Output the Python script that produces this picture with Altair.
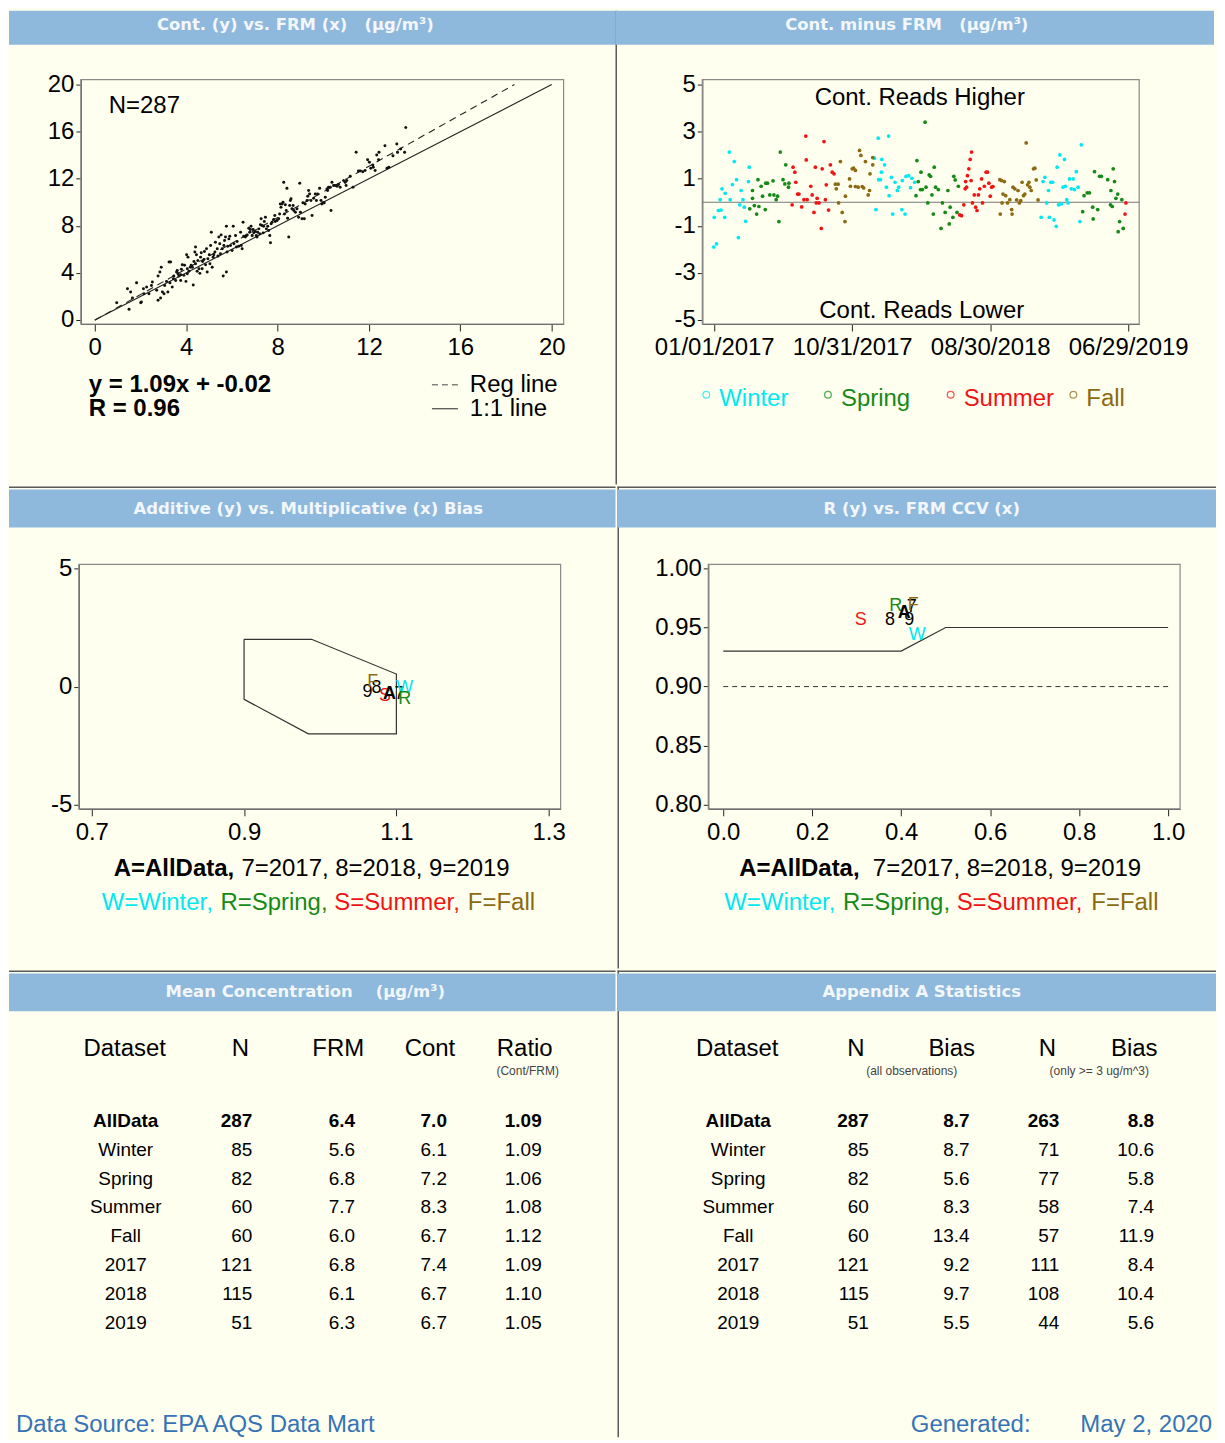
import altair as alt
import pandas as pd

# ---------------- data ----------------
FRM = [0.96,1.43,1.50,1.57,1.65,1.83,2.01,2.04,2.15,2.13,
       2.27,2.37,2.48,2.52,2.71,2.77,2.77,2.85,2.88,2.91,
       2.96,3.03,3.06,3.14,3.20,3.25,3.32,3.29,3.39,3.44,
       3.46,3.54,3.58,3.61,3.64,3.68,3.76,3.76,3.79,3.83,
       3.90,3.93,3.99,4.02,4.05,4.05,4.08,4.12,4.19,4.22,
       4.27,4.31,4.34,4.38,4.41,4.41,4.45,4.48,4.51,4.56,
       4.60,4.63,4.66,4.70,4.72,4.78,4.80,4.85,4.89,4.92,
       4.95,5.01,5.04,5.07,5.10,5.14,5.18,5.21,5.26,5.28,
       5.36,5.39,5.43,5.47,5.50,5.53,5.58,5.62,5.65,5.68,
       5.72,5.76,5.76,5.79,5.82,5.87,5.91,5.94,6.01,6.06,
       6.09,6.16,6.20,6.23,6.30,6.38,6.41,6.45,6.49,6.52,
       6.59,6.64,6.67,6.74,6.78,6.81,6.84,6.89,6.93,6.96,
       7.03,7.07,7.10,7.13,7.18,7.22,7.25,7.28,7.32,7.37,
       7.39,7.42,7.47,7.51,7.57,7.61,7.66,7.69,7.72,7.76,
       7.83,7.88,7.90,7.98,8.05,8.09,8.12,8.15,8.20,8.24,
       8.27,8.30,8.34,8.38,8.41,8.44,8.49,8.53,8.56,8.59,
       8.63,8.68,8.71,8.78,8.85,8.92,8.97,9.00,9.07,9.11,
       9.17,9.21,9.29,9.32,9.36,9.40,9.46,9.51,9.58,9.65,
       9.70,9.75,9.84,9.90,9.94,9.99,10.04,10.09,10.16,10.19,
       10.23,10.31,10.34,10.38,10.45,10.52,10.60,10.67,10.74,10.89,
       10.96,11.00,11.03,11.18,11.30,11.44,11.54,11.62,11.73,11.83,
       11.94,12.02,12.08,12.17,12.27,12.34,12.42,
       12.19,12.44,12.70,12.79,12.87,13.05,13.22,13.25,13.39,13.56,13.61]
CONT = [1.47,2.66,0.91,2.38,1.87,3.17,1.47,1.53,2.23,2.66,
        2.80,2.23,2.94,3.22,2.52,3.73,1.67,4.07,1.87,4.49,
        2.38,2.23,2.94,3.28,2.38,4.92,4.92,3.17,2.80,3.51,
        3.73,3.36,4.07,4.21,3.93,3.73,3.84,3.36,4.30,4.69,
        3.79,4.64,3.28,5.54,3.93,4.35,5.34,4.13,4.49,4.64,
        4.47,2.98,4.97,5.77,6.19,4.78,5.54,4.13,5.06,4.35,
        3.96,5.34,5.71,4.35,4.97,5.14,5.82,4.69,6.05,4.07,
        5.20,5.54,4.78,6.33,7.46,4.49,5.34,5.54,5.77,6.61,
        6.05,5.43,7.04,6.47,5.62,7.23,6.05,3.73,6.33,6.75,
        7.04,4.07,7.97,5.77,6.27,6.89,7.12,6.33,5.91,7.97,
        6.47,7.18,6.19,6.67,6.27,7.46,6.33,6.05,8.31,7.12,
        7.04,7.18,7.23,7.80,7.46,7.69,7.97,7.18,7.69,7.40,
        7.52,7.18,7.04,7.46,7.74,7.32,8.08,8.59,8.02,7.40,
        7.97,8.37,8.73,7.74,7.97,7.60,7.18,6.56,8.17,8.31,
        8.54,8.87,8.37,8.45,8.59,9.01,9.86,9.58,9.86,10.0,
        11.70,9.01,9.78,9.30,11.19,8.65,7.04,9.72,10.14,10.29,
        9.44,9.72,9.30,9.16,9.44,8.73,11.61,9.16,8.59,9.95,
        8.59,9.86,10.14,10.51,10.99,10.71,10.14,8.87,10.34,10.71,
        10.14,10.71,11.19,10.14,9.86,9.95,9.95,10.43,11.13,10.99,
        11.27,11.27,9.30,11.70,11.42,11.42,11.36,11.50,11.27,11.84,
        11.70,11.42,11.84,12.21,11.27,14.24,12.66,12.66,12.60,12.69,
        13.62,13.39,12.88,13.17,12.69,14.01,13.62,
        12.98,14.25,14.81,12.89,12.98,13.96,14.95,14.25,14.53,14.25,16.36]
REG_SLOPE = 1.09
REG_INTERCEPT = -0.02
R_VALUE = 0.96

SEASONS = ["Winter", "Spring", "Summer", "Fall"]
SEASON_COLORS = ["#00E8F0", "#168A16", "#F01414", "#8B6A12"]
DATE_TICKS = ["01/01/2017", "10/31/2017", "08/30/2018", "06/29/2019"]

# days since 01/01/2017 and Cont.-FRM differences, by season
WINTER_DAYS = [0,-1,5,9,15,17,23,24,13,33,35,40,44,49,53,56,59,63,66,69,75,77,
               352,355,360,361,365,367,368,374,378,383,384,389,392,397,402,405,412,413,419,421,427,431,434,440,
               718,722,726,730,734,736,739,743,746,751,753,756,759,762,766,769,771,774,777,780,784,788,791,795,799,803,806]
WINTER_DIFF = [-0.64,-1.9,-1.77,-0.35,-0.33,0.57,-0.64,0.38,0.11,2.13,0.11,0.75,1.73,0.96,-1.5,-0.11,0.5,0.11,-0.21,-0.81,0.88,1.49,
               1.87,-0.31,2.72,0.96,0.96,1.28,1.82,1.59,0.64,2.81,0.28,1.06,-0.5,0.85,0.5,0.64,-0.31,0.92,-0.5,1.1,1.13,0.62,1.02,0.85,
               -0.64,0.88,1.06,-0.03,0.5,-0.64,0.85,0.85,-0.75,-1.02,1.49,-0.11,2.01,-0.07,0.64,1.82,0.68,0.11,-0.03,0.99,0.57,0.99,0.54,1.3,0.64,-0.82,2.44]
SPRING_DAYS = [78,84,84,88,93,96,98,103,106,112,113,117,122,129,131,136,139,142,145,151,155,157,163,164,
               443,445,448,453,454,457,463,465,469,472,475,478,481,483,486,492,498,501,507,513,518,516,524,526,529,533,536,
               809,812,819,824,832,831,835,842,846,850,864,870,871,874,876,879,882,886,887,890,895,898]
SPRING_DIFF = [-0.28,0.5,0.17,-0.14,-0.5,0.96,-0.18,0.68,0.26,-0.31,0.81,0.81,0.31,0.91,0.31,0.11,0.26,-0.82,2.13,0.96,0.78,1.59,0.64,0.81,
               0.28,1.77,0.88,0.54,1.28,0.54,3.4,0.64,-0.03,1.16,1.1,0.31,-0.5,1.49,0.64,0.54,-1.11,-0.03,-0.43,0.5,-0.21,-0.92,-0.64,1.1,0.95,-0.43,0.68,
               -0.4,0.28,0.4,0.4,-0.71,-0.21,1.3,-0.31,1.1,1.1,0.96,-0.11,0.5,-0.18,1.42,0.88,0.17,0.35,-1.25,-0.82,0.11,-1.11]
SUMMER_DAYS = [173,177,179,171,186,183,192,197,201,202,204,212,215,219,222,224,226,230,235,237,241,244,246,251,255,259,263,
               539,543,548,551,552,554,556,559,562,564,565,567,571,574,577,580,583,587,589,593,597,600,603,606,609,612,
               902,904]
SUMMER_DIFF = [1.49,1.28,0.85,-0.11,0.35,0.35,-0.2,0.11,2.81,1.8,0.11,0.68,0.31,-0.43,1.49,-0.03,0.17,-0.03,-1.11,1.42,2.58,0.11,0.74,-0.33,1.59,1.28,1.21,
               -0.54,-0.57,-0.11,0.57,0.88,0.64,1.13,1.42,1.82,0.92,2.13,-0.03,0.31,-0.21,-0.35,0.31,0.57,0.99,-0.03,0.68,1.28,1.28,0.81,0.26,0.64,0.67,
               -0.5,-0.03]
FALL_DAYS = [266,268,272,273,277,281,287,288,297,299,303,306,310,310,316,319,322,325,328,332,338,341,342,348,348,
             627,631,632,634,637,628,640,644,649,653,654,656,660,664,667,670,673,676,679,682,685,688,691,693,696,701,704,707,711]
FALL_DIFF = [0.77,0.57,0.77,-0.03,1.73,-0.43,-0.82,0.26,0.99,0.68,1.42,1.45,1.35,0.67,0.64,2.2,1.99,0.67,0.61,1.73,0.31,0.5,1.21,1.59,1.9,
             0.96,0.92,-0.03,0.35,0.88,-0.5,0.28,-0.03,0.11,-0.31,-0.5,0.64,0.57,0.1,0.5,-0.03,0.07,0.85,0.28,0.35,2.52,0.74,0.85,0.64,0.5,1.42,1.45,0.95,0.1]

CODES = ["A", "7", "8", "9", "W", "R", "S", "F"]
CODE_COLORS = ["#000000", "#000000", "#000000", "#000000"] + SEASON_COLORS
CODE_SLOPE = [1.091, 1.104, 1.074, 1.062, 1.111, 1.111, 1.085, 1.069]
CODE_INTERCEPT = [-0.30, -0.30, -0.08, -0.21, -0.08, -0.51, -0.38, 0.21]
CODE_CCV = [0.407, 0.424, 0.375, 0.418, 0.436, 0.388, 0.309, 0.427]
CODE_R = [0.962, 0.967, 0.956, 0.956, 0.944, 0.968, 0.956, 0.969]

ACC_SLOPE = [0.9, 0.9886, 1.1, 1.1, 0.9844, 0.9, 0.9]
ACC_INTERCEPT = [2.0, 2.0, 0.53, -2.0, -2.0, -0.538, 2.0]
R_LIMIT_CCV = [0.0, 0.4, 0.5, 1.0]
R_LIMIT_R = [0.93, 0.93, 0.95, 0.95]
R_MIN = 0.90

DATASETS = ["AllData", "Winter", "Spring", "Summer", "Fall", "2017", "2018", "2019"]
MC_N = [287, 85, 82, 60, 60, 121, 115, 51]
MC_FRM = [6.4, 5.6, 6.8, 7.7, 6.0, 6.8, 6.1, 6.3]
MC_CONT = [7.0, 6.1, 7.2, 8.3, 6.7, 7.4, 6.7, 6.7]
MC_RATIO = [1.09, 1.09, 1.06, 1.08, 1.12, 1.09, 1.10, 1.05]
AP_N_ALL = [287, 85, 82, 60, 60, 121, 115, 51]
AP_BIAS_ALL = [8.7, 8.7, 5.6, 8.3, 13.4, 9.2, 9.7, 5.5]
AP_N_3 = [263, 71, 77, 58, 57, 111, 108, 44]
AP_BIAS_3 = [8.8, 10.6, 5.8, 7.4, 11.9, 8.4, 10.4, 5.6]

# ---------------- style / layout ----------------
FONT = "Liberation Sans"
HFONT = "DejaVu Sans"
BG = "#FFFFEF"
HEAD_BG = "#8EB9DD"
HEAD_FG = "#F3F7FB"
BORDER = "#5A5A5A"
FOOT = "#3673B6"
NB = "\u00a0"
MINUS_EXPR = "replace(datum.label, '\u2212', '-')"

WL, WR = 608, 600
H1, H2, H3 = 475, 483, 468

one = pd.DataFrame({"k": [0]})


def text(s, x, y, size=24, color="black", weight="normal", align="center",
         font=FONT, baseline="middle"):
    return alt.Chart(one).mark_text(
        text=s, font=font, fontSize=size, fontWeight=weight, color=color,
        align=align, baseline=baseline).encode(x=alt.value(x), y=alt.value(y))


def header(title, w, y0, y1, cx, cy):
    bar = alt.Chart(one).mark_rect(color=HEAD_BG).encode(
        x=alt.value(0), x2=alt.value(w), y=alt.value(y0), y2=alt.value(y1))
    return [bar, text(title, cx, cy, size=16.5, color=HEAD_FG, weight="bold", font=HFONT)]


def hrule(w):
    return alt.Chart(one).mark_rule(color=BORDER, strokeWidth=1.5).encode(
        x=alt.value(0), x2=alt.value(w), y=alt.value(0.75))


def vrule(h):
    return alt.Chart(one).mark_rule(color=BORDER, strokeWidth=1.5).encode(
        x=alt.value(0.75), y=alt.value(0), y2=alt.value(h))


def sc(domain, rng):
    return alt.Scale(domain=domain, range=rng, nice=False, zero=False)


def axis(orient, values, offset, fmt=None, expr=None, tick=6, pad=4):
    kw = dict(orient=orient, values=values, offset=offset, grid=False, title=None,
              labelFont=FONT, labelFontSize=24, labelColor="black",
              tickColor="#222222", tickSize=tick, tickWidth=1,
              domainColor="#555555", domainWidth=1.2,
              labelPadding=pad, labelFlush=False, labelOverlap=False)
    if fmt:
        kw["format"] = fmt
    if expr:
        kw["labelExpr"] = expr
    return alt.Axis(**kw)


def frame(xf, yf, X, Y, xd, yd):
    df = pd.DataFrame({xf: [xd[0]], xf + "2": [xd[1]], yf: [yd[0]], yf + "2": [yd[1]]})
    return alt.Chart(df).mark_rect(fillOpacity=0, stroke="#8A8A8A", strokeWidth=1.2).encode(
        x=X, x2=alt.X2(xf + "2"), y=Y, y2=alt.Y2(yf + "2"))


# ---------------- Panel A: scatter ----------------
AXD, AYD = [-0.611, 20.52], [-0.34, 20.42]
XA = alt.X("ax:Q", scale=sc(AXD, [72, 556]),
           axis=axis("bottom", [0, 4, 8, 12, 16, 20], -(H1 - 314), tick=7, pad=5))
YA = alt.Y("ay:Q", scale=sc(AYD, [314, 69]),
           axis=axis("left", [0, 4, 8, 12, 16, 20], -72, tick=5, pad=2))
pts_a = pd.DataFrame({"ax": FRM, "ay": CONT})
x_end = (20 - REG_INTERCEPT) / REG_SLOPE
reg_df = pd.DataFrame({"ax": [0, x_end], "ay": [REG_INTERCEPT, REG_INTERCEPT + REG_SLOPE * x_end]})
one_df = pd.DataFrame({"ax": [0, 20], "ay": [0, 20]})

layers_a = header("Cont. (y) vs. FRM (x)" + NB * 3 + "(\u03bcg/m\u00b3)", WL, 0, 34, 287, 14)
layers_a += [
    frame("ax", "ay", XA, YA, AXD, AYD),
    alt.Chart(one_df).mark_line(color="#222222", strokeWidth=1.1).encode(x=XA, y=YA),
    alt.Chart(reg_df).mark_line(color="#222222", strokeWidth=1.1, strokeDash=[7, 5]).encode(x=XA, y=YA),
    alt.Chart(pts_a).mark_circle(size=9, color="#111111", opacity=1).encode(x=XA, y=YA),
    text(f"N={MC_N[0]}", 100, 95, align="left"),
    text(f"y = {REG_SLOPE:.2f}x + {REG_INTERCEPT:.2f}", 80, 375, weight="bold", align="left"),
    text(f"R = {R_VALUE:.2f}", 80, 399, weight="bold", align="left"),
    alt.Chart(one).mark_rule(color="#444444", strokeDash=[6, 4]).encode(
        x=alt.value(424), x2=alt.value(450), y=alt.value(375)),
    alt.Chart(one).mark_rule(color="#222222").encode(
        x=alt.value(424), x2=alt.value(450), y=alt.value(399)),
    text("Reg line", 462, 375, align="left"),
    text("1:1 line", 462, 399, align="left"),
]
pA = alt.layer(*layers_a).properties(width=WL, height=H1)

# ---------------- Panel B: time series of differences ----------------
base = pd.Timestamp("2017-01-01")
tick_days = [(pd.to_datetime(s, format="%m/%d/%Y") - base).days for s in DATE_TICKS]
date_expr = " : ".join(f"datum.value == {d} ? '{s}'" for d, s in zip(tick_days, DATE_TICKS)) + " : ''"
rows = []
for s, dd, vv in [("Winter", WINTER_DAYS, WINTER_DIFF), ("Spring", SPRING_DAYS, SPRING_DIFF),
                  ("Summer", SUMMER_DAYS, SUMMER_DIFF), ("Fall", FALL_DAYS, FALL_DIFF)]:
    for d, v in zip(dd, vv):
        rows.append({"bx": d, "by": v, "season": s})
pts_b = pd.DataFrame(rows)
BXD, BYD = [-26.3, 933.1], [-5.17, 5.21]
XB = alt.X("bx:Q", scale=sc(BXD, [87, 525]),
           axis=axis("bottom", tick_days, -(H1 - 314), expr=date_expr, tick=7, pad=5))
YB = alt.Y("by:Q", scale=sc(BYD, [314, 69]),
           axis=axis("left", [-5, -3, -1, 1, 3, 5], -87, expr=MINUS_EXPR, tick=5, pad=2))
zero_df = pd.DataFrame({"bx": [BXD[0], BXD[1]], "by": [0, 0]})

layers_b = [vrule(H1)] + header("Cont. minus FRM" + NB * 3 + "(\u03bcg/m\u00b3)", WR, 0, 34, 292, 14)
layers_b += [
    frame("bx", "by", XB, YB, BXD, BYD),
    alt.Chart(zero_df).mark_line(color="#777777", strokeWidth=1.1).encode(x=XB, y=YB),
    alt.Chart(pts_b).mark_circle(size=14, opacity=1).encode(
        x=XB, y=YB,
        color=alt.Color("season:N", scale=alt.Scale(domain=SEASONS, range=SEASON_COLORS), legend=None)),
    text("Cont. Reads Higher", 305, 87),
    text("Cont. Reads Lower", 307, 301),
]
leg_x = [91, 213, 336, 459]
for s, c, lx in zip(SEASONS, SEASON_COLORS, leg_x):
    layers_b.append(alt.Chart(one).mark_point(shape="circle", filled=False, size=45, strokeWidth=1.3, color=c)
                    .encode(x=alt.value(lx), y=alt.value(385)))
    layers_b.append(text(s, lx + 13, 389, color=c, align="left"))
pB = alt.layer(*layers_b).properties(width=WR, height=H1)

# ---------------- Panel C: additive vs multiplicative bias ----------------
CXD, CYD = [0.683, 1.3157], [-5.169, 5.169]
XC = alt.X("cx:Q", scale=sc(CXD, [70, 553]),
           axis=axis("bottom", [0.7, 0.9, 1.1, 1.3], -(H2 - 323), fmt=".1f", tick=7, pad=5))
YC = alt.Y("cy:Q", scale=sc(CYD, [323, 78]),
           axis=axis("left", [-5, 0, 5], -70, expr=MINUS_EXPR, tick=5, pad=2))
poly = pd.DataFrame({"cx": ACC_SLOPE, "cy": ACC_INTERCEPT, "o": list(range(len(ACC_SLOPE)))})
codes_c = pd.DataFrame({"cx": CODE_SLOPE, "cy": CODE_INTERCEPT, "code": CODES})
code_color = alt.Color("code:N", scale=alt.Scale(domain=CODES, range=CODE_COLORS), legend=None)

layers_c = [hrule(WL)] + header("Additive (y) vs. Multiplicative (x) Bias", WL, 3, 41, 300, 22)
layers_c += [
    frame("cx", "cy", XC, YC, CXD, CYD),
    alt.Chart(poly).mark_line(color="#333333", strokeWidth=1.2).encode(x=XC, y=YC, order="o:Q"),
    alt.Chart(codes_c).transform_filter("datum.code != 'A'").mark_text(font=FONT, fontSize=18).encode(
        x=XC, y=YC, text="code:N", color=code_color),
    alt.Chart(codes_c).transform_filter("datum.code == 'A'").mark_text(font=FONT, fontSize=18, fontWeight="bold").encode(
        x=XC, y=YC, text="code:N", color=code_color),
]


def code_legend(x1, x2, xs, y1=383, y2=417):
    out = [text("A=AllData,", x1, y1, weight="bold", align="left"),
           text("7=2017, 8=2018, 9=2019", x2, y1, align="left")]
    labels = ["W=Winter,", "R=Spring,", "S=Summer,", "F=Fall"]
    for lab, c, x in zip(labels, SEASON_COLORS, xs):
        out.append(text(lab, x, y2, color=c, align="left"))
    return out


layers_c += code_legend(105, 233, [93, 212, 326, 460])
pC = alt.layer(*layers_c).properties(width=WL, height=H2)

# ---------------- Panel D: R vs CCV ----------------
DXD, DYD = [-0.0336, 1.0269], [0.79662, 1.00338]
XD = alt.X("dx:Q", scale=sc(DXD, [91, 564]),
           axis=axis("bottom", [0.0, 0.2, 0.4, 0.6, 0.8, 1.0], -(H2 - 323), fmt=".1f", tick=7, pad=5))
YD = alt.Y("dy:Q", scale=sc(DYD, [323, 78]),
           axis=axis("left", [0.80, 0.85, 0.90, 0.95, 1.00], -91, fmt=".2f", tick=5, pad=2))
lim = pd.DataFrame({"dx": R_LIMIT_CCV, "dy": R_LIMIT_R, "o": list(range(len(R_LIMIT_CCV)))})
rmin = pd.DataFrame({"dx": [0.0, 1.0], "dy": [R_MIN, R_MIN]})
codes_d = pd.DataFrame({"dx": CODE_CCV, "dy": CODE_R, "code": CODES})

layers_d = [hrule(WR), vrule(H2)] + header("R (y) vs. FRM CCV (x)", WR, 3, 41, 305, 22)
layers_d += [
    frame("dx", "dy", XD, YD, DXD, DYD),
    alt.Chart(lim).mark_line(color="#333333", strokeWidth=1.2).encode(x=XD, y=YD, order="o:Q"),
    alt.Chart(rmin).mark_line(color="#333333", strokeWidth=1, strokeDash=[5, 4]).encode(x=XD, y=YD),
    alt.Chart(codes_d).transform_filter("datum.code != 'A'").mark_text(font=FONT, fontSize=18).encode(
        x=XD, y=YD, text="code:N", color=code_color),
    alt.Chart(codes_d).transform_filter("datum.code == 'A'").mark_text(font=FONT, fontSize=18, fontWeight="bold").encode(
        x=XD, y=YD, text="code:N", color=code_color),
]
layers_d += code_legend(122, 256, [107, 226, 340, 475])
pD = alt.layer(*layers_d).properties(width=WR, height=H2)

# ---------------- Tables ----------------
tab = pd.DataFrame({"idx": list(range(len(DATASETS))), "name": DATASETS,
                    "n": MC_N, "frm": MC_FRM, "cont": MC_CONT, "ratio": MC_RATIO,
                    "n1": AP_N_ALL, "b1": AP_BIAS_ALL, "n3": AP_N_3, "b3": AP_BIAS_3})
YT = alt.Y("idx:Q", scale=sc([0, 7], [151, 353]), axis=None)


def col(field, x, align, fmt=None, typ="Q"):
    enc = alt.Text(f"{field}:{typ}", format=fmt) if fmt else alt.Text(f"{field}:{typ}")
    out = []
    for cond, wt in [("datum.idx == 0", "bold"), ("datum.idx > 0", "normal")]:
        out.append(alt.Chart(tab).transform_filter(cond).mark_text(
            font=FONT, fontSize=19, fontWeight=wt, color="black", align=align, baseline="middle")
            .encode(x=alt.value(x), y=YT, text=enc))
    return out


layers_e = [hrule(WL)] + header("Mean Concentration" + NB * 4 + "(\u03bcg/m\u00b3)", WL, 3, 41, 297, 22)
for lab, x in [("Dataset", 116), ("N", 232), ("FRM", 330), ("Cont", 422), ("Ratio", 517)]:
    layers_e.append(text(lab, x, 79))
layers_e.append(text("(Cont/FRM)", 520, 101, size=12, color="#444444"))
layers_e += col("name", 117, "center", typ="N")
layers_e += col("n", 244, "right", "d")
layers_e += col("frm", 347, "right", ".1f")
layers_e += col("cont", 439, "right", ".1f")
layers_e += col("ratio", 534, "right", ".2f")
layers_e.append(text("Data Source: EPA AQS Data Mart", 7, 463, color=FOOT, align="left", baseline="alphabetic"))
pE = alt.layer(*layers_e).properties(width=WL, height=H3)

layers_f = [hrule(WR), vrule(H3)] + header("Appendix A Statistics", WR, 3, 41, 305, 22)
for lab, x in [("Dataset", 120), ("N", 239), ("Bias", 335), ("N", 431), ("Bias", 518)]:
    layers_f.append(text(lab, x, 79))
layers_f.append(text("(all observations)", 295, 101, size=12, color="#444444"))
layers_f.append(text("(only >= 3 ug/m^3)", 483, 101, size=12, color="#444444"))
layers_f += col("name", 121, "center", typ="N")
layers_f += col("n1", 252, "right", "d")
layers_f += col("b1", 353, "right", ".1f")
layers_f += col("n3", 443, "right", "d")
layers_f += col("b3", 538, "right", ".1f")
layers_f.append(text("Generated:", 294, 463, color=FOOT, align="left", baseline="alphabetic"))
layers_f.append(text("May 2, 2020", 464, 463, color=FOOT, align="left", baseline="alphabetic"))
pF = alt.layer(*layers_f).properties(width=WR, height=H3)

# ---------------- assemble ----------------
def row(a, b):
    return alt.hconcat(a, b, spacing=0).resolve_scale(x="independent", y="independent", color="independent")


chart = (alt.vconcat(row(pA, pB), row(pC, pD), row(pE, pF), spacing=0)
         .resolve_scale(x="independent", y="independent", color="independent")
         .properties(background=BG, padding=0)
         .configure_view(stroke=None))

chart.save("out.html", embed_options={"renderer": "svg", "actions": False})
